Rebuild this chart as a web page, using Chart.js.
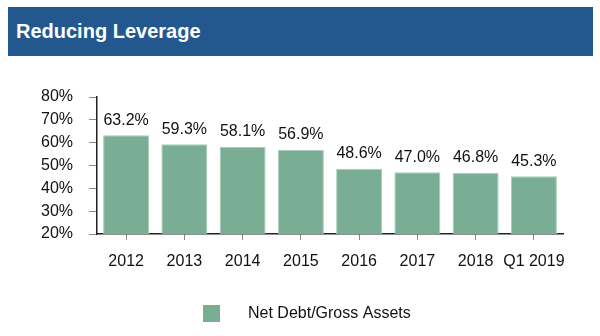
<!DOCTYPE html>
<html>
<head>
<meta charset="utf-8">
<script src="https://cdn.jsdelivr.net/npm/chart.js@4"></script>
<style>
  html, body { margin: 0; padding: 0; background: #fff; }
  #wrap { position: relative; width: 600px; height: 336px; }
  #banner {
    position: absolute; left: 8px; top: 7px; width: 585px; height: 49px;
    background: #23588f; color: #fff;
    font: bold 20px "Liberation Sans", Arial, sans-serif;
    line-height: 49px; padding-left: 8px; box-sizing: border-box;
  }
  canvas { position: absolute; left: 0; top: 0; }
</style>
</head>
<body>
<div id="wrap">
  <div id="banner">Reducing Leverage</div>
  <canvas id="chart" width="600" height="336"></canvas>
</div>
<script>
const categories = ["2012", "2013", "2014", "2015", "2016", "2017", "2018", "Q1 2019"];
const netDebtGrossAssets = [63.2, 59.3, 58.1, 56.9, 48.6, 47.0, 46.8, 45.3];
const seriesLabel = "Net Debt/Gross Assets";
const yTicks = [20, 30, 40, 50, 60, 70, 80];

const FONT = "'Liberation Sans', Arial, sans-serif";
const BAR_COLOR = "#7aae94";

// value labels above the bars + legend at bottom
const labelsPlugin = {
  id: "labels",
  afterDatasetsDraw(chart) {
    const ctx = chart.ctx;
    const meta = chart.getDatasetMeta(0);
    ctx.save();
    ctx.font = "16px " + FONT;
    ctx.fillStyle = "#111";
    ctx.textAlign = "center";
    ctx.textBaseline = "bottom";
    meta.data.forEach((bar, i) => {
      ctx.fillText(chart.data.datasets[0].data[i].toFixed(1) + "%", bar.x, bar.y - 7);
    });
    // legend
    ctx.fillStyle = chart.data.datasets[0].backgroundColor;
    ctx.fillRect(203, 305, 17, 17);
    ctx.fillStyle = "#111";
    ctx.textAlign = "left";
    ctx.textBaseline = "middle";
    ctx.fillText(chart.data.datasets[0].label, 248, 314);
    ctx.restore();
  }
};

new Chart(document.getElementById("chart"), {
  type: "bar",
  data: {
    labels: categories,
    datasets: [{
      label: seriesLabel,
      data: netDebtGrossAssets,
      backgroundColor: BAR_COLOR,
      borderColor: "#a9cdb9",
      borderWidth: 1,
      categoryPercentage: 1,
      barPercentage: 0.79
    }]
  },
  options: {
    responsive: false,
    animation: false,
    layout: { padding: { left: 0, right: 37, top: 97, bottom: 62 } },
    plugins: {
      legend: { display: false },
      tooltip: { enabled: false }
    },
    scales: {
      x: {
        afterFit: (s) => { s.height = 40; },
        grid: { offset: false, drawOnChartArea: false, tickLength: 6, color: "#888" },
        border: { color: "#222", width: 1.5 },
        ticks: {
          color: "#111", font: { family: FONT, size: 16 }, padding: 12,
          maxRotation: 0, minRotation: 0, autoSkip: false
        }
      },
      y: {
        min: 20,
        max: 80,
        afterFit: (s) => { s.width = 97; },
        afterBuildTicks: (s) => { s.ticks = yTicks.map(v => ({ value: v })); },
        grid: { drawOnChartArea: false, tickLength: 8, color: "#888" },
        border: { color: "#222", width: 1.5 },
        ticks: {
          color: "#111",
          font: { family: FONT, size: 16 },
          padding: 16,
          callback: (v) => v + "%"
        }
      }
    }
  },
  plugins: [labelsPlugin]
});
</script>
</body>
</html>
